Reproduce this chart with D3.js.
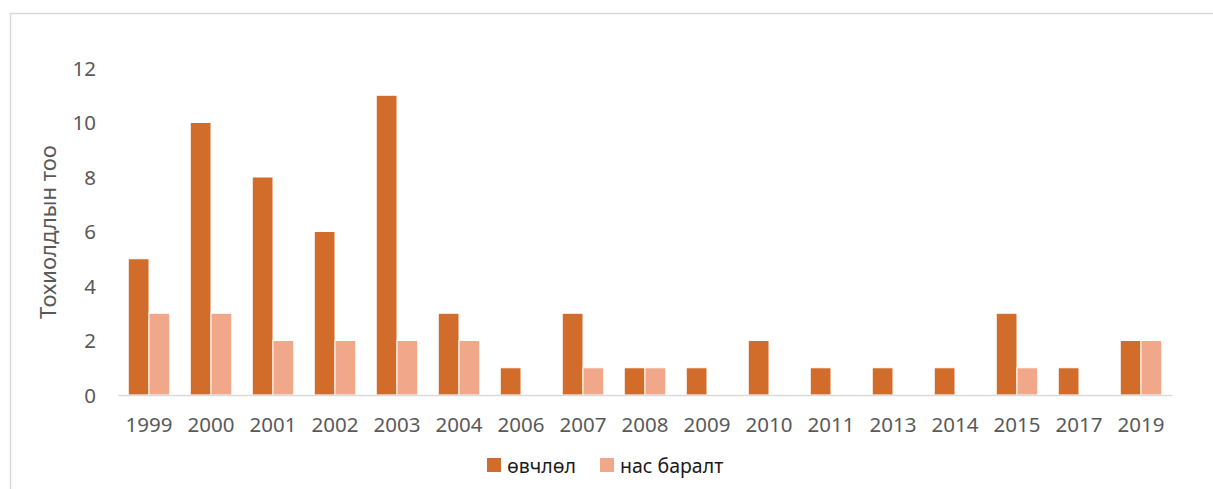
<!DOCTYPE html>
<html>
<head>
  <meta charset="utf-8">
  <title>Тохиолдлын тоо</title>
  <script src="https://d3js.org/d3.v7.min.js"></script>
  <style>
body { margin: 0; background: #fff; }
text { font-family: "Noto Sans", "Open Sans", sans-serif; }
.tick text { fill: #595959; font-size: 20.5px; }
  </style>
</head>
<body>
<div id="chart"></div>
<script>
var years = ["1999","2000","2001","2002","2003","2004","2006","2007","2008","2009","2010","2011","2013","2014","2015","2017","2019"];
var cases = [5, 10, 8, 6, 11, 3, 1, 3, 1, 1, 2, 1, 1, 1, 3, 1, 2];
var deaths = [3, 3, 2, 2, 2, 2, 0, 1, 1, 0, 0, 0, 0, 0, 1, 0, 2];
var seriesNames = ["өвчлөл", "нас баралт"];
var colors = ["#D26C2A", "#F1A88A"];
var yTicks = [0, 2, 4, 6, 8, 10, 12];

var w = 1213, h = 489;
var svg = d3.select("#chart").append("svg")
  .attr("width", w)
  .attr("height", h);

// chart frame
svg.append("path")
  .attr("d", "M10.5," + h + "V13.5H" + w)
  .attr("fill", "none")
  .attr("stroke", "#d9d9d9")
  .attr("stroke-width", 1.5);

var x = d3.scaleBand().domain(years).range([118, 1172]).paddingInner(0.33).paddingOuter(0.165);
var xs = d3.scaleBand().domain([0, 1]).range([0, x.bandwidth()]);
var y = d3.scaleLinear().domain([0, 12]).range([395, 68]);

// y axis labels
var ya = svg.append("g").attr("transform", "translate(96,0)")
  .call(d3.axisLeft(y).tickValues(yTicks).tickSize(0).tickPadding(0));
ya.select(".domain").remove();
ya.selectAll(".tick text").attr("dy", "0.36em");

var rows = years.map((d, i) => ({year: d, vals: [cases[i], deaths[i]]}));
var groups = svg.selectAll("g.yr").data(rows).enter()
  .append("g").attr("class", "yr")
  .attr("transform", d => "translate(" + x(d.year) + ",0)");
groups.selectAll("rect").data(d => d.vals.map((v, k) => ({k: k, v: v}))).enter()
  .filter(d => d.v > 0)
  .append("rect")
    .attr("x", d => xs(d.k))
    .attr("y", d => y(d.v))
    .attr("width", xs.bandwidth())
    .attr("height", d => y(0) - y(d.v))
    .attr("fill", d => colors[d.k])
    .attr("stroke", "#fff")
    .attr("stroke-width", 1);

// x axis
var xa = svg.append("g").attr("transform", "translate(0,395)")
  .call(d3.axisBottom(x).tickSize(0).tickPadding(37));
xa.select(".domain").attr("stroke", "#d9d9d9").attr("stroke-width", 1.5);
xa.selectAll(".tick text").attr("dy", "0");

// y title
svg.append("text")
  .attr("transform", "translate(47,232) rotate(-90)")
  .attr("text-anchor", "middle")
  .attr("dominant-baseline", "central")
  .attr("fill", "#595959")
  .style("font-size", "22px")
  .text("Тохиолдлын тоо");

// legend
var legend = svg.append("g");
var lx = [487, 600];
seriesNames.forEach(function (name, i) {
  legend.append("rect")
    .attr("x", lx[i]).attr("y", 458)
    .attr("width", 14).attr("height", 14)
    .attr("fill", colors[i]);
  legend.append("text")
    .attr("x", lx[i] + 20).attr("y", 465)
    .attr("dominant-baseline", "central")
    .attr("fill", "#1a1a1a")
    .style("font-size", "19.5px")
    .text(name);
});
</script>
</body>
</html>
